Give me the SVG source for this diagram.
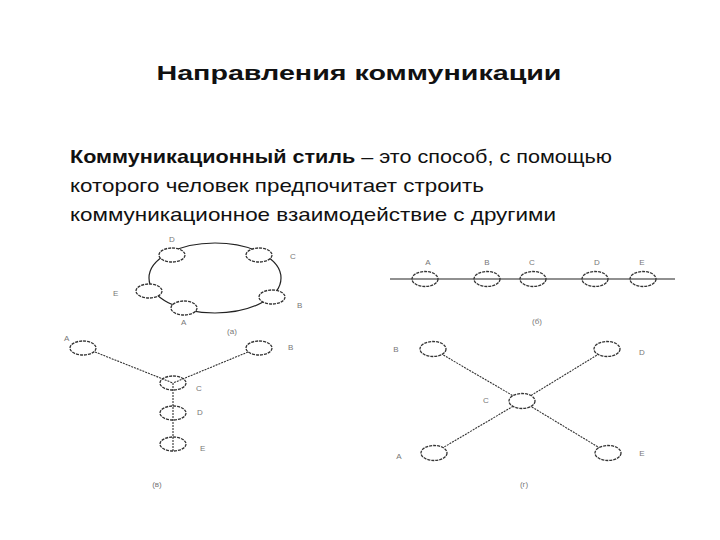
<svg xmlns="http://www.w3.org/2000/svg" width="720" height="540" viewBox="0 0 720 540">
<style>
.t{font-family:"Liberation Sans","Noto Sans",sans-serif;fill:#111}
.n{fill:#fff;stroke:#333;stroke-width:1.3;stroke-dasharray:3 1}
.o{fill:none}
.c{stroke:#333;stroke-width:1.1;fill:none;stroke-dasharray:2 1}
.s{stroke:#222;stroke-width:1.2;fill:none}
.l{font-family:"Liberation Sans",sans-serif;font-size:8px;fill:#777}
</style>
<rect width="720" height="540" fill="#fff"/>
<text class="t" x="359" y="80" font-size="21" font-weight="bold" text-anchor="middle" textLength="405" lengthAdjust="spacingAndGlyphs">Направления коммуникации</text>
<text class="t" x="70" y="163" font-size="19" textLength="542" lengthAdjust="spacingAndGlyphs"><tspan font-weight="bold">Коммуникационный стиль</tspan> – это способ, с помощью</text>
<text class="t" x="70" y="192" font-size="19" textLength="414" lengthAdjust="spacingAndGlyphs">которого человек предпочитает строить</text>
<text class="t" x="70" y="221" font-size="19" textLength="486" lengthAdjust="spacingAndGlyphs">коммуникационное взаимодействие с другими</text>

<g id="connectors">
<ellipse class="s" cx="215" cy="278" rx="66" ry="35"/>
<line class="s" x1="390" y1="279" x2="675" y2="279"/>
<line class="c" x1="95" y1="352" x2="173" y2="383"/>
<line class="c" x1="248" y1="352" x2="173" y2="383"/>
<line class="c" x1="173" y1="383" x2="173" y2="451"/>
<line class="c" x1="433" y1="349" x2="522" y2="401"/>
<line class="c" x1="607" y1="349" x2="522" y2="401"/>
<line class="c" x1="434" y1="453" x2="522" y2="401"/>
<line class="c" x1="608" y1="453" x2="522" y2="401"/>
</g>

<g id="ring">
<g id="ring-D"><ellipse cx="172" cy="255" rx="13" ry="7" class="n"/><text class="l" x="169" y="242">D</text></g>
<g id="ring-C"><ellipse cx="259" cy="255" rx="13" ry="7" class="n"/><text class="l" x="290" y="259">C</text></g>
<g id="ring-B"><ellipse cx="272" cy="297" rx="13" ry="7" class="n"/><text class="l" x="297" y="308">B</text></g>
<g id="ring-A"><ellipse cx="184" cy="308" rx="13" ry="7" class="n"/><text class="l" x="181" y="325">A</text></g>
<g id="ring-E"><ellipse cx="149" cy="291" rx="13" ry="7" class="n"/><text class="l" x="113" y="296">E</text></g>
<text class="l" x="232" y="334" text-anchor="middle">(а)</text>
</g>

<g id="chain">
<g id="chain-A"><ellipse cx="425" cy="279" rx="13" ry="7.5" class="n o"/><text class="l" x="428" y="265" text-anchor="middle">A</text></g>
<g id="chain-B"><ellipse cx="487" cy="279" rx="13" ry="7.5" class="n o"/><text class="l" x="487" y="265" text-anchor="middle">B</text></g>
<g id="chain-C"><ellipse cx="533" cy="279" rx="13" ry="7.5" class="n o"/><text class="l" x="532" y="265" text-anchor="middle">C</text></g>
<g id="chain-D"><ellipse cx="595" cy="279" rx="13" ry="7.5" class="n o"/><text class="l" x="597" y="265" text-anchor="middle">D</text></g>
<g id="chain-E"><ellipse cx="643" cy="279" rx="13" ry="7.5" class="n o"/><text class="l" x="642" y="265" text-anchor="middle">E</text></g>
<text class="l" x="537" y="324" text-anchor="middle">(б)</text>
</g>

<g id="y">
<g id="y-A"><ellipse cx="83" cy="348" rx="13" ry="7" class="n"/><text class="l" x="64" y="341">A</text></g>
<g id="y-B"><ellipse cx="259" cy="348" rx="13" ry="7" class="n"/><text class="l" x="288" y="350">B</text></g>
<g id="y-C"><ellipse cx="173" cy="383" rx="13" ry="7" class="n o"/><text class="l" x="196" y="391">C</text></g>
<g id="y-D"><ellipse cx="173" cy="413" rx="13" ry="7" class="n o"/><text class="l" x="197" y="415">D</text></g>
<g id="y-E"><ellipse cx="173" cy="444" rx="13" ry="7" class="n o"/><text class="l" x="200" y="451">E</text></g>
<text class="l" x="157" y="487" text-anchor="middle">(в)</text>
</g>

<g id="star">
<g id="star-B"><ellipse cx="433" cy="349" rx="13" ry="7.5" class="n"/><text class="l" x="396" y="352" text-anchor="middle">B</text></g>
<g id="star-D"><ellipse cx="607" cy="349" rx="13" ry="7.5" class="n"/><text class="l" x="642" y="355" text-anchor="middle">D</text></g>
<g id="star-C"><ellipse cx="522" cy="401" rx="13" ry="7.5" class="n"/><text class="l" x="486" y="403" text-anchor="middle">C</text></g>
<g id="star-A"><ellipse cx="434" cy="453" rx="13" ry="7.5" class="n"/><text class="l" x="399" y="459" text-anchor="middle">A</text></g>
<g id="star-E"><ellipse cx="608" cy="453" rx="13" ry="7.5" class="n"/><text class="l" x="642" y="456" text-anchor="middle">E</text></g>
<text class="l" x="524" y="487" text-anchor="middle">(г)</text>
</g>
</svg>
